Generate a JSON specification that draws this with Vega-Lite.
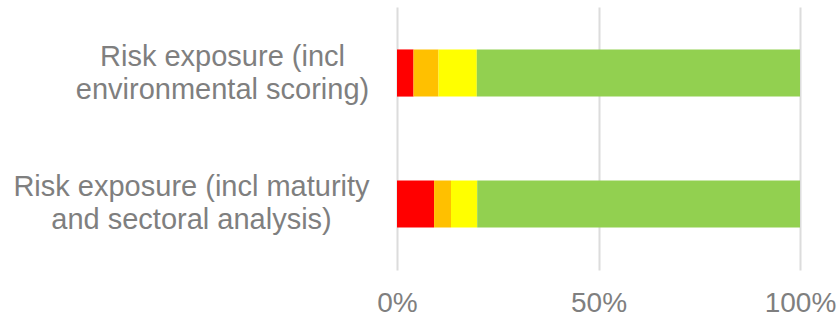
{
  "$schema": "https://vega.github.io/schema/vega-lite/v6.json",
  "width": 403,
  "height": 263,
  "autosize": {"type": "none"},
  "padding": {"left": 397, "top": 7, "right": 40, "bottom": 48},
  "background": "white",
  "config": {"view": {"stroke": null}, "font": "Liberation Sans", "axis": {"labelFont": "Liberation Sans"}},
  "data": {
    "values": [
      {"cat": "Risk exposure (incl environmental scoring)", "level": "Red", "ord": 1, "pct": 4.1},
      {"cat": "Risk exposure (incl environmental scoring)", "level": "Orange", "ord": 2, "pct": 6.2},
      {"cat": "Risk exposure (incl environmental scoring)", "level": "Yellow", "ord": 3, "pct": 9.5},
      {"cat": "Risk exposure (incl environmental scoring)", "level": "Green", "ord": 4, "pct": 80.2},
      {"cat": "Risk exposure (incl maturity and sectoral analysis)", "level": "Red", "ord": 1, "pct": 9.2},
      {"cat": "Risk exposure (incl maturity and sectoral analysis)", "level": "Orange", "ord": 2, "pct": 4.2},
      {"cat": "Risk exposure (incl maturity and sectoral analysis)", "level": "Yellow", "ord": 3, "pct": 6.5},
      {"cat": "Risk exposure (incl maturity and sectoral analysis)", "level": "Green", "ord": 4, "pct": 80.1}
    ]
  },
  "mark": {"type": "bar"},
  "encoding": {
    "y": {
      "field": "cat",
      "type": "nominal",
      "sort": ["Risk exposure (incl environmental scoring)", "Risk exposure (incl maturity and sectoral analysis)"],
      "scale": {"paddingInner": 0.64, "paddingOuter": 0.324},
      "axis": {
        "title": null,
        "domain": false,
        "ticks": false,
        "tickSize": 0,
        "grid": false,
        "labelFontSize": 29,
        "labelColor": "#7f7f7f",
        "labelAlign": "center",
        "labelBaseline": "middle",
        "labelLineHeight": 33,
        "labelOffset": -16.5,
        "labelLimit": 0,
        "labelPadding": {"condition": {"test": "indexof(datum.value, 'environmental') >= 0", "value": 175}, "value": 206},
        "labelExpr": "indexof(datum.value, 'environmental') >= 0 ? ['Risk exposure (incl', 'environmental scoring)'] : ['Risk exposure (incl maturity', 'and sectoral analysis)']"
      }
    },
    "x": {
      "field": "pct",
      "type": "quantitative",
      "stack": "normalize",
      "scale": {"domain": [0, 1]},
      "axis": {
        "title": null,
        "format": "%",
        "values": [0, 0.5, 1],
        "domain": false,
        "ticks": false,
        "grid": true,
        "gridColor": "#dcdcdc",
        "gridWidth": 2,
        "labelFontSize": 28,
        "labelColor": "#7f7f7f",
        "labelPadding": 19,
        "labelFlush": false
      }
    },
    "color": {
      "field": "level",
      "type": "nominal",
      "scale": {"domain": ["Red", "Orange", "Yellow", "Green"], "range": ["#FF0000", "#FFC000", "#FFFF00", "#92D050"]},
      "legend": null
    },
    "order": {"field": "ord", "type": "quantitative"}
  }
}
